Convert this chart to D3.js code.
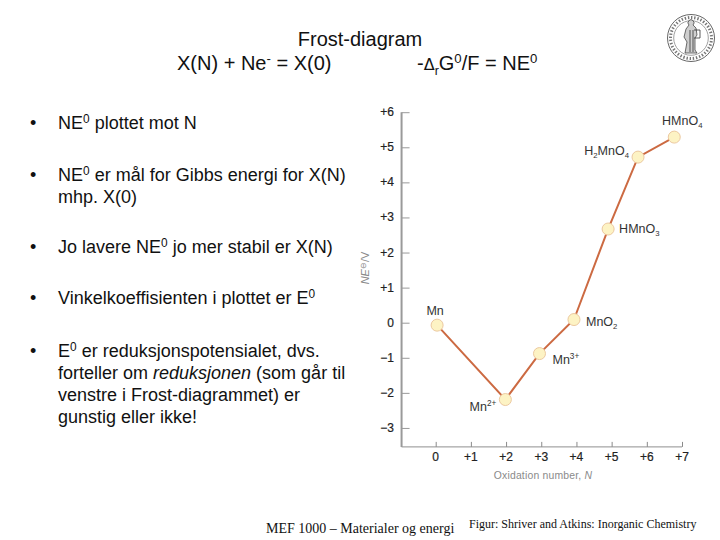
<!DOCTYPE html>
<html><head><meta charset="utf-8">
<script src="https://d3js.org/d3.v7.min.js"></script>
<style>html,body{margin:0;padding:0;background:#fff}svg{display:block}</style>
</head><body><svg id="c" width="720" height="540"></svg>
<script>
const oxidation = [0.04, 1.98, 2.95, 3.93, 4.90, 5.75, 6.78];
const frost = [-0.07, -2.19, -0.88, 0.09, 2.67, 4.72, 5.29];
const speciesParts = [
  [["Mn",""]],
  [["Mn",""],["2+","sup"]],
  [["Mn",""],["3+","sup"]],
  [["MnO",""],["2","sub"]],
  [["HMnO",""],["3","sub"]],
  [["H",""],["2","sub"],["MnO",""],["4","sub"]],
  [["HMnO",""],["4","sub"]]
];
const xTicks = [0,1,2,3,4,5,6,7];
const yTicks = [6,5,4,3,2,1,0,-1,-2,-3];
const xTickLabels = ["0","+1","+2","+3","+4","+5","+6","+7"];
const yTickLabels = ["+6","+5","+4","+3","+2","+1","0","\u22121","\u22122","\u22123"];
const bulletLines = [
  [[["NE",""],["0","sup"],[" plottet mot N",""]]],
  [[["NE",""],["0","sup"],[" er mål for Gibbs energi for X(N)",""]],[["mhp. X(0)",""]]],
  [[["Jo lavere NE",""],["0","sup"],[" jo mer stabil er X(N)",""]]],
  [[["Vinkelkoeffisienten i plottet er E",""],["0","sup"]]],
  [[["E",""],["0","sup"],[" er reduksjonspotensialet, dvs.",""]],
   [["forteller om ",""],["reduksjonen","i"],[" (som går til",""]],
   [["venstre i Frost-diagrammet) er",""]],
   [["gunstig eller ikke!",""]]]
];

const svg = d3.select("#c");
const SANS = "'Liberation Sans',Arial,sans-serif";
const SERIF = "'Liberation Serif','Times New Roman',serif";

function rich(sel, parts, size){
  let shift = 0;
  parts.forEach(([t,k])=>{
    const ts = sel.append("tspan").text(t);
    let target = 0;
    if(k==="sup"){ts.attr("font-size",size*0.66); target=-size*0.33;}
    else if(k==="sub"){ts.attr("font-size",size*0.62); target=size*0.25;}
    else if(k==="i"){ts.attr("font-style","italic");}
    if(target!==shift){ts.attr("dy",target-shift); shift=target;}
  });
}

// Header
svg.append("text").attr("x",360).attr("y",46).attr("text-anchor","middle")
  .attr("font-family",SANS).attr("font-size",20).attr("fill","#111").text("Frost-diagram");
const eq1 = svg.append("text").attr("x",177).attr("y",70).attr("font-family",SANS).attr("font-size",20).attr("fill","#111");
rich(eq1,[["X(N) + Ne",""],["-","sup"],[" = X(0)",""]],20);
const eq2 = svg.append("text").attr("x",417).attr("y",70).attr("font-family",SANS).attr("font-size",20).attr("fill","#111");
eq2.append("tspan").text("-");
eq2.append("tspan").attr("font-family","'DejaVu Sans',serif").attr("font-size",16).text("\u0394");
rich(eq2,[["r","sub"],["G",""],["0","sup"],["/F = NE",""],["0","sup"]],20);

// Bullets
const bulletTop = [129,181,253,304,357];
bulletLines.forEach((lines,i)=>{
  svg.append("text").attr("x",30).attr("y",bulletTop[i]).attr("font-family",SANS).attr("font-size",18).attr("fill","#111").text("\u2022");
  lines.forEach((parts,j)=>{
    const t = svg.append("text").attr("x",58).attr("y",bulletTop[i]+j*22)
      .attr("font-family",SANS).attr("font-size",18).attr("fill","#111");
    rich(t,parts,18);
  });
});

// Scales
const x = d3.scaleLinear().domain([0,7]).range([435.7,682]);
const y = d3.scaleLinear().domain([0,6]).range([322.7,112.2]);
const xLeft = x(-0.97), yBottom = y(-3.54);

// Axes through d3.axis
const gx = svg.append("g").attr("transform",`translate(0,${yBottom})`)
  .call(d3.axisTop(x).tickValues(xTicks).tickSize(5).tickFormat(""));
gx.select(".domain").attr("d",`M${xLeft},0H${x(7)}`).attr("stroke","#8f8f8f").attr("stroke-width",1);
gx.selectAll(".tick line").attr("stroke","#8a8a8a");
const gy = svg.append("g").attr("transform",`translate(${xLeft},0)`)
  .call(d3.axisRight(y).tickValues(yTicks).tickSize(8).tickFormat(""));
gy.select(".domain").attr("d",`M0,${y(6)}V${yBottom}`).attr("stroke","#9a9a9a").attr("stroke-width",2);
gy.selectAll(".tick line").attr("stroke","#9a9a9a");

svg.append("g").selectAll("text").data(xTicks).join("text")
  .attr("x",d=>x(d)).attr("y",yBottom+14).attr("text-anchor","middle")
  .attr("font-family",SANS).attr("font-size",12).attr("fill","#222").attr("stroke","#222").attr("stroke-width",0.2).text((d,i)=>xTickLabels[i]);
svg.append("g").selectAll("text").data(yTicks).join("text")
  .attr("x",394).attr("y",d=>y(d)+4).attr("text-anchor","end")
  .attr("font-family",SANS).attr("font-size",12).attr("fill","#222").attr("stroke","#222").attr("stroke-width",0.2).text((d,i)=>yTickLabels[i]);

// Axis titles
const xt = svg.append("text").attr("x",543).attr("y",479).attr("text-anchor","middle")
  .attr("font-family",SANS).attr("font-size",10.4).attr("fill","#8a8a8a").attr("letter-spacing",0.2);
xt.append("tspan").text("Oxidation number, ");
xt.append("tspan").attr("font-style","italic").text("N");
const yt = svg.append("text").attr("transform","translate(369,268) rotate(-90)").attr("text-anchor","middle")
  .attr("font-family",SANS).attr("font-size",11).attr("fill","#8a8a8a");
yt.append("tspan").attr("font-style","italic").text("NE");
yt.append("tspan").attr("font-size",7.5).attr("dy",-3).text("\u2296");
yt.append("tspan").attr("font-size",11).attr("dy",3).text("/V");

// Line + points
const pts = oxidation.map((v,i)=>[v,frost[i]]);
const line = d3.line().x(d=>x(d[0])).y(d=>y(d[1]));
svg.append("path").attr("d",line(pts)).attr("fill","none").attr("stroke","#cc6a42").attr("stroke-width",2);
svg.append("g").selectAll("circle").data(pts).join("circle")
  .attr("cx",d=>x(d[0])).attr("cy",d=>y(d[1])).attr("r",6)
  .attr("fill","#fdf3c4").attr("stroke","#ecc9a0").attr("stroke-width",1);

// Point labels
const labelOffsets = [[-2,-10,"middle"],[-9,11,"end"],[13,10,"start"],[12,6,"start"],[11,4,"start"],[-9,-2,"end"],[8,-12,"middle"]];
speciesParts.forEach((parts,i)=>{
  const o = labelOffsets[i];
  const t = svg.append("text").attr("x",x(oxidation[i])+o[0]).attr("y",y(frost[i])+o[1])
    .attr("text-anchor",o[2]).attr("font-family",SANS).attr("font-size",12.5).attr("fill","#333");
  rich(t,parts,12.5);
});

// Footer
svg.append("text").attr("x",266).attr("y",533).attr("font-family",SERIF).attr("font-size",14).attr("fill","#111").text("MEF 1000 \u2013 Materialer og energi");
svg.append("text").attr("x",469).attr("y",528).attr("font-family",SERIF).attr("font-size",12).attr("fill","#111").text("Figur: Shriver and Atkins: Inorganic Chemistry");

// Seal decoration
const seal = svg.append("g").attr("transform","translate(691,38)");
seal.append("circle").attr("r",23.5).attr("fill","#fff").attr("stroke","#555").attr("stroke-width",0.9);
seal.append("circle").attr("r",20.5).attr("fill","none").attr("stroke","#777").attr("stroke-width",3).attr("stroke-dasharray","1.4 1.8");
seal.append("circle").attr("r",17.3).attr("fill","none").attr("stroke","#777").attr("stroke-width",0.7);
seal.append("path").attr("d","M-2,-13 a3,3 0 1 1 4,0 L5,-10 L6,-3 L4,0 L4,12 L6,15 L-6,15 L-4,4 L-7,-1 L-5,-9 Z")
  .attr("fill","#cfcfcf").attr("stroke","#333").attr("stroke-width",0.7);
seal.append("path").attr("d","M-1,-8 V14 M2,-8 V14 M3,-8 h6 v8 h-6").attr("fill","none").attr("stroke","#333").attr("stroke-width",0.8);
</script></body></html>
